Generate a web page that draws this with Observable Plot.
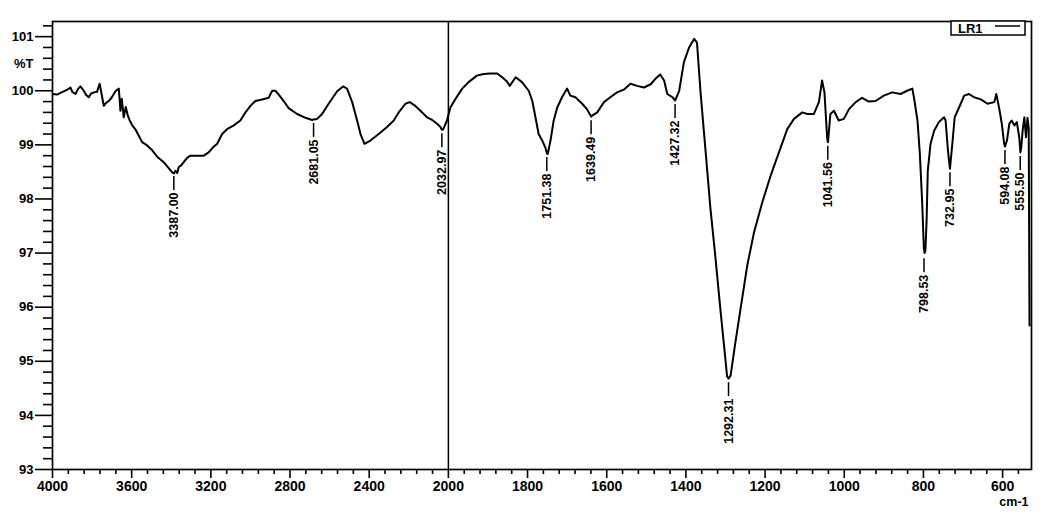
<!DOCTYPE html>
<html><head><meta charset="utf-8">
<script src="https://cdn.jsdelivr.net/npm/d3@7"></script>
<script src="https://cdn.jsdelivr.net/npm/@observablehq/plot@0.6"></script>
<style>html,body{margin:0;padding:0;background:#fff;} svg{display:block;}</style>
</head><body><div id="chart"></div>
<script>
// IR spectrum
const wavenumber = [
4000,3976,3960,3943,3925,3909,3900,3884,3870,3859,3842,3830,3817,3805,3791,3775,3762,3755,3741,3728,3716,3700,3682,3665,3660,3657,3650,3640,3630,3620,3610,3597,3580,3564,3547,3522,3496,3471,3438,3413,3395,3387,3379,3370,3362,3350,3337,3320,3303,3269,3236,3211,3190,3168,3143,3118,3084,3051,3025,3000,2975,2941,2908,2890,2874,2857,2832,2807,2764,2722,2688,2681,2663,2638,2605,2562,2532,2512,2486,2461,2444,2424,2394,2352,2310,2276,2251,2217,2195,2167,2141,2108,2082,2057,2040,2033,2027,2007,
1995,1982,1965,1949,1928,1911,1894,1877,1864,1852,1845,1830,1814,1797,1788,1780,1772,1763,1755,1751,1749,1742,1734,1725,1713,1700,1692,1679,1662,1650,1639,1637,1624,1607,1591,1574,1557,1540,1523,1506,1489,1477,1465,1455,1447,1434,1427,1417,1405,1392,1379,1372,1363,1350,1338,1325,1313,1302,1296,1292,1287,1275,1262,1245,1228,1207,1186,1165,1144,1127,1106,1093,1077,1064,1056,1050,1043,1041,1035,1026,1014,1001,988,971,955,938,921,900,879,858,841,828,824,815,809,803,799,797,795,792,789,782,773,761,748,744,738,733,727,721,710,697,685,672,655,638,621,616,609,602,596,594,589,583,577,570,564,558,555,553,549,545,541,537,534,532
];
const transmittance = [
99.94,99.93,99.96,99.99,100.02,100.06,99.98,99.94,100.04,100.08,100.00,99.92,99.88,99.95,99.97,99.98,100.13,100.0,99.72,99.78,99.81,99.88,99.99,100.04,99.80,99.63,99.85,99.51,99.70,99.55,99.45,99.36,99.28,99.17,99.05,98.99,98.90,98.78,98.68,98.57,98.49,98.47,98.52,98.48,98.59,98.62,98.68,98.76,98.80,98.80,98.80,98.86,98.95,99.02,99.20,99.29,99.36,99.45,99.60,99.72,99.81,99.84,99.87,100.0,100.0,99.93,99.81,99.68,99.57,99.50,99.46,99.47,99.48,99.57,99.76,99.99,100.08,100.04,99.79,99.45,99.20,99.02,99.08,99.20,99.33,99.45,99.60,99.76,99.79,99.72,99.63,99.51,99.46,99.39,99.33,99.28,99.28,99.45,
99.69,99.85,100.04,100.16,100.28,100.31,100.32,100.32,100.25,100.17,100.09,100.25,100.16,100.0,99.81,99.51,99.20,99.08,98.95,98.84,98.83,99.08,99.45,99.69,99.88,100.04,99.91,99.88,99.76,99.66,99.52,99.54,99.60,99.79,99.88,99.97,100.02,100.13,100.09,100.06,100.12,100.22,100.30,100.19,99.94,99.88,99.82,100.0,100.53,100.80,100.96,100.89,99.97,98.86,97.82,96.89,95.97,95.17,94.72,94.68,94.74,95.35,95.97,96.77,97.38,97.94,98.43,98.86,99.29,99.48,99.60,99.57,99.57,99.79,100.19,99.97,99.11,99.05,99.57,99.63,99.45,99.48,99.66,99.79,99.87,99.80,99.81,99.91,99.97,99.94,100.0,100.04,99.88,99.45,98.83,97.91,97.10,97.0,97.05,97.60,98.52,99.02,99.26,99.42,99.51,99.45,98.89,98.56,99.02,99.51,99.69,99.91,99.94,99.88,99.84,99.76,99.79,99.94,99.69,99.39,99.02,98.97,99.08,99.39,99.45,99.36,99.42,99.14,98.86,98.95,99.29,99.51,99.14,99.50,99.30,95.66
];
const peakWavenumber = [3387.00, 2681.05, 2032.97, 1751.38, 1639.49, 1427.32, 1292.31, 1041.56, 798.53, 732.95, 594.08, 555.50];
const peakTransmittance = [98.49, 99.47, 99.28, 98.84, 99.52, 99.82, 94.68, 99.05, 96.97, 98.56, 98.97, 98.86];
const xMajorTicks = [4000,3600,3200,2800,2400,2000,1800,1600,1400,1200,1000,800,600];
const xMinorTicks = [3920,3840,3760,3680,3520,3440,3360,3280,3120,3040,2960,2880,2720,2640,2560,2480,2320,2240,2160,2080,1960,1920,1880,1840,1760,1720,1680,1640,1560,1520,1480,1440,1360,1320,1280,1240,1160,1120,1080,1040,960,920,880,840,760,720,680,640,560];
const yMajorTicks = [93,94,95,96,97,98,99,100,101];
const yMinorTicks = [93.2,93.4,93.6,93.8,94.2,94.4,94.6,94.8,95.2,95.4,95.6,95.8,96.2,96.4,96.6,96.8,97.2,97.4,97.6,97.8,98.2,98.4,98.6,98.8,99.2,99.4,99.6,99.8,100.2,100.4,100.6,100.8,101.2];
const xRange = [4000, 527];
const breakAt = 2000;      // axis scale changes here (half compression above)
const seriesName = "LR1";
const xUnit = "cm-1";
const yUnit = "%T";

const W = 1049, H = 519, mL = 52, mR = 18, mT = 21, mB = 50;
const yDomain = [93, 101.28];
const pxPerUnit = (H - mB - mT) / (yDomain[1] - yDomain[0]);
const labelTick = 14 / pxPerUnit;

// broken wavenumber axis: above 2000 cm-1 compressed by 2
const fwd = wn => wn >= breakAt ? (xRange[0] - wn) / 2 : (xRange[0] - breakAt) / 2 + (breakAt - wn);
const inv = u => u <= (xRange[0] - breakAt) / 2 ? xRange[0] - 2 * u : breakAt - (u - (xRange[0] - breakAt) / 2);

const idx = d3.range(wavenumber.length);
const pk = d3.range(peakWavenumber.length);

const chart = Plot.plot({
  width: W, height: H,
  marginLeft: mL, marginRight: mR, marginTop: mT, marginBottom: mB,
  style: {fontFamily: "'Liberation Sans', Arial, sans-serif", fontWeight: "bold", fontSize: "13px", color: "black", background: "white"},
  x: {domain: [fwd(xRange[0]), fwd(xRange[1])]},
  y: {domain: yDomain},
  marks: [
    Plot.axisX({ticks: xMajorTicks.map(fwd), tickSize: 9, tickPadding: 3, tickFormat: u => String(Math.round(inv(u))), fontSize: 14, fontWeight: "bold", label: null, strokeWidth: 1.6}),
    Plot.axisX({ticks: xMinorTicks.map(fwd), tickSize: 5, tickFormat: () => "", label: null, strokeWidth: 1.6}),
    Plot.axisY({ticks: yMajorTicks, tickSize: 17, tickPadding: 2, tickFormat: d => String(d), fontSize: 13, fontWeight: "bold", label: null, strokeWidth: 1.6}),
    Plot.axisY({ticks: yMinorTicks, tickSize: 9, tickFormat: () => "", label: null, strokeWidth: 1.6}),
    Plot.frame({stroke: "black", strokeWidth: 1.7}),
    Plot.ruleX([breakAt], {x: d => fwd(d), stroke: "black", strokeWidth: 1.5}),
    Plot.line(idx, {x: i => fwd(wavenumber[i]), y: i => transmittance[i], stroke: "black", strokeWidth: 2, strokeLinejoin: "round"}),
    Plot.ruleX(pk, {x: i => fwd(peakWavenumber[i]), y1: i => peakTransmittance[i], y2: i => peakTransmittance[i] - labelTick, dy: 4, stroke: "black", strokeWidth: 1.5}),
    Plot.text(pk, {x: i => fwd(peakWavenumber[i]), y: i => peakTransmittance[i], text: i => peakWavenumber[i].toFixed(2), rotate: -90, textAnchor: "end", dy: 20, fontSize: 12.5, fontWeight: "bold", fill: "black"}),
    Plot.text([yUnit], {frameAnchor: "top-left", text: d => d, textAnchor: "end", lineAnchor: "middle", dx: -19, dy: 42, fontSize: 13, fontWeight: "bold"}),
    Plot.text([xUnit], {frameAnchor: "bottom-right", text: d => d, textAnchor: "end", lineAnchor: "middle", dx: -3, dy: 32, fontSize: 12.5, fontWeight: "bold"})
  ]
});

// legend box in the upper right corner
const svg = d3.select(chart);
const lg = svg.append("g").attr("font-family", "'Liberation Sans', Arial, sans-serif").attr("font-weight", "bold").attr("text-anchor", "start");
lg.append("rect").attr("x", 951).attr("y", mT).attr("width", 74).attr("height", 14).attr("fill", "white").attr("stroke", "black").attr("stroke-width", 1.5);
lg.append("text").attr("x", 958).attr("y", 32.5).attr("font-size", 13).attr("fill", "black").text(seriesName);
lg.append("line").attr("x1", 995).attr("x2", 1020).attr("y1", 26).attr("y2", 26).attr("stroke", "black").attr("stroke-width", 1.5);

document.getElementById("chart").appendChild(chart);
</script>
</body></html>
